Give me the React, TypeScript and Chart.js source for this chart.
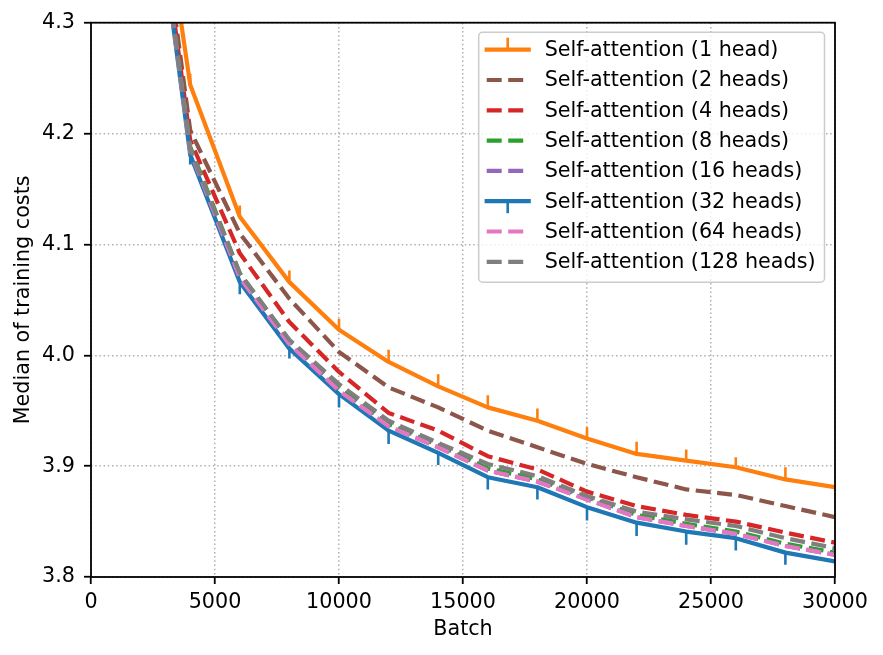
import { useEffect, useRef } from 'react';
import { Chart, registerables } from 'chart.js';

Chart.register(...registerables);

// training batch at which each median was taken
const batches = [2000, 4000, 6000, 8000, 10000, 12000, 14000, 16000, 18000, 20000, 22000, 24000, 26000, 28000, 30000];

// median of training costs, one array per number of heads
const heads1 = [4.55, 4.244, 4.125, 4.066, 4.023, 3.994, 3.972, 3.953, 3.941, 3.925, 3.911, 3.905, 3.899, 3.888, 3.881];
const heads2 = [4.54, 4.203, 4.11, 4.051, 4.003, 3.971, 3.953, 3.932, 3.917, 3.902, 3.89, 3.879, 3.874, 3.864, 3.854];
const heads4 = [4.53, 4.194, 4.092, 4.03, 3.985, 3.948, 3.932, 3.909, 3.897, 3.877, 3.864, 3.856, 3.85, 3.84, 3.831];
const heads8 = [4.52, 4.188, 4.074, 4.013, 3.97, 3.938, 3.919, 3.898, 3.888, 3.872, 3.856, 3.848, 3.841, 3.83, 3.822];
const heads16 = [4.52, 4.186, 4.072, 4.011, 3.968, 3.936, 3.917, 3.896, 3.886, 3.87, 3.854, 3.846, 3.839, 3.828, 3.82];
const heads32 = [4.52, 4.181, 4.066, 4.006, 3.965, 3.932, 3.912, 3.89, 3.881, 3.863, 3.849, 3.841, 3.835, 3.822, 3.814];
const heads64 = [4.52, 4.184, 4.07, 4.01, 3.968, 3.936, 3.917, 3.896, 3.886, 3.87, 3.854, 3.846, 3.839, 3.828, 3.82];
const heads128 = [4.52, 4.185, 4.074, 4.014, 3.974, 3.941, 3.921, 3.902, 3.891, 3.873, 3.859, 3.852, 3.846, 3.835, 3.826];

// one-sided error bars: upward for 1 head, downward for 32 heads
const err1Head = [null, 0.01, 0.01, 0.0105, 0.01, 0.011, 0.011, 0.011, 0.011, 0.01, 0.011, 0.01, 0.009, 0.011, null];
const err32Heads = [null, 0.009, 0.011, 0.009, 0.012, 0.012, 0.011, 0.011, 0.011, 0.012, 0.012, 0.012, 0.011, 0.011, null];

const seriesLabels = [
  'Self-attention (1 head)',
  'Self-attention (2 heads)',
  'Self-attention (4 heads)',
  'Self-attention (8 heads)',
  'Self-attention (16 heads)',
  'Self-attention (32 heads)',
  'Self-attention (64 heads)',
  'Self-attention (128 heads)',
];
const seriesValues = [heads1, heads2, heads4, heads8, heads16, heads32, heads64, heads128];
const seriesColors = ['#ff7f0e', '#8c564b', '#d62728', '#2ca02c', '#9467bd', '#1f77b4', '#e377c2', '#7f7f7f'];
const solidSeries = [true, false, false, false, false, true, false, false];

const xTicks = [0, 5000, 10000, 15000, 20000, 25000, 30000];
const yTicks = [3.8, 3.9, 4.0, 4.1, 4.2, 4.3];

const FONT = '"DejaVu Sans", sans-serif';
const FONT_SIZE = 20.7;
const LINE_W = 4.2;
const DASH = [15, 6.5];

const errorBars = {
  id: 'errorBars',
  afterDatasetsDraw(chart: any) {
    const { ctx, chartArea, scales } = chart;
    const sets = [
      { values: heads1, err: err1Head, dir: 1, color: seriesColors[0] },
      { values: heads32, err: err32Heads, dir: -1, color: seriesColors[5] },
    ];
    ctx.save();
    ctx.beginPath();
    ctx.rect(chartArea.left, chartArea.top, chartArea.width, chartArea.height);
    ctx.clip();
    ctx.lineWidth = 2.6;
    sets.forEach((s) => {
      ctx.strokeStyle = s.color;
      ctx.beginPath();
      s.err.forEach((e, i) => {
        if (e == null) return;
        const px = scales.x.getPixelForValue(batches[i]);
        ctx.moveTo(px, scales.y.getPixelForValue(s.values[i]));
        ctx.lineTo(px, scales.y.getPixelForValue(s.values[i] + s.dir * e));
      });
      ctx.stroke();
    });
    ctx.restore();

    // spines on all four sides
    ctx.save();
    ctx.strokeStyle = '#000';
    ctx.lineWidth = 1.8;
    ctx.strokeRect(chartArea.left, chartArea.top, chartArea.width, chartArea.height);
    ctx.restore();
  },
};

const insideLegend = {
  id: 'insideLegend',
  afterDraw(chart: any) {
    const { ctx, chartArea } = chart;
    ctx.save();
    ctx.font = `${FONT_SIZE}px ${FONT}`;
    const maxW = Math.max(...seriesLabels.map((l) => ctx.measureText(l).width));
    const textX = 66;
    const w = textX + maxW + 9;
    const h = 250;
    const right = chartArea.right - 10.5;
    const left = right - w;
    const top = chartArea.top + 9.5;

    ctx.beginPath();
    ctx.roundRect(left, top, w, h, 4);
    ctx.fillStyle = 'rgba(255,255,255,0.8)';
    ctx.fill();
    ctx.strokeStyle = '#cccccc';
    ctx.lineWidth = 1.5;
    ctx.stroke();

    seriesLabels.forEach((label, i) => {
      const cy = top + 17.5 + i * 30.3;
      const solid = solidSeries[i];
      ctx.strokeStyle = seriesColors[i];
      ctx.lineWidth = LINE_W;
      ctx.setLineDash(solid ? [] : DASH);
      ctx.lineCap = solid ? 'square' : 'butt';
      ctx.beginPath();
      ctx.moveTo(left + 8, cy);
      ctx.lineTo(left + 50, cy);
      ctx.stroke();
      ctx.setLineDash([]);
      if (i === 0 || i === 5) {
        ctx.lineWidth = 2.6;
        ctx.lineCap = 'butt';
        ctx.beginPath();
        ctx.moveTo(left + 29, cy);
        ctx.lineTo(left + 29, cy + (i === 0 ? -12 : 12));
        ctx.stroke();
      }
      ctx.fillStyle = '#000';
      ctx.textBaseline = 'middle';
      ctx.textAlign = 'left';
      ctx.fillText(label, left + textX, cy + 1);
    });
    ctx.restore();
  },
};

export default function App() {
  const canvasRef = useRef<HTMLCanvasElement>(null);

  useEffect(() => {
    if (!canvasRef.current) return;

    const tickFont = { family: FONT, size: FONT_SIZE };

    const chart = new Chart(canvasRef.current, {
      type: 'line',
      data: {
        datasets: seriesValues.map((vals, i) => ({
          label: seriesLabels[i],
          data: vals.map((v, j) => ({ x: batches[j], y: v })),
          borderColor: seriesColors[i],
          backgroundColor: seriesColors[i],
          borderWidth: LINE_W,
          borderDash: solidSeries[i] ? [] : DASH,
          borderCapStyle: 'butt',
          borderJoinStyle: 'round',
          pointRadius: 0,
          tension: 0,
          fill: false,
          clip: 0,
          order: seriesValues.length - i,
        })),
      },
      options: {
        animation: false,
        responsive: true,
        maintainAspectRatio: false,
        layout: { padding: { top: 22.7, right: 48, left: 0, bottom: 0 } },
        plugins: {
          legend: { display: false },
          tooltip: { enabled: false },
        },
        scales: {
          x: {
            type: 'linear',
            min: 0,
            max: 30000,
            afterBuildTicks: (axis: any) => {
              axis.ticks = xTicks.map((v) => ({ value: v }));
            },
            afterFit: (axis: any) => {
              axis.height = 78;
            },
            grid: {
              color: '#b0b0b0',
              lineWidth: 1.5,
              tickColor: '#000',
              tickLength: 7,
              tickWidth: 1.8,
            },
            border: { display: false, dash: [1.5, 2.7] },
            ticks: {
              color: '#000',
              font: tickFont,
              padding: 6,
              maxRotation: 0,
              autoSkip: false,
              callback: (v: any) => String(v),
            },
            title: {
              display: true,
              text: 'Batch',
              color: '#000',
              font: tickFont,
              padding: { top: 0, bottom: 13 },
            },
          },
          y: {
            type: 'linear',
            min: 3.8,
            max: 4.3,
            afterBuildTicks: (axis: any) => {
              axis.ticks = yTicks.map((v) => ({ value: v }));
            },
            afterFit: (axis: any) => {
              axis.width = 91;
            },
            grid: {
              color: '#b0b0b0',
              lineWidth: 1.5,
              tickColor: '#000',
              tickLength: 7,
              tickWidth: 1.8,
            },
            border: { display: false, dash: [1.5, 2.7] },
            ticks: {
              color: '#000',
              font: tickFont,
              padding: 9,
              autoSkip: false,
              callback: (v: any) => Number(v).toFixed(1),
            },
            title: {
              display: true,
              text: 'Median of training costs',
              color: '#000',
              font: tickFont,
              padding: { top: 11, bottom: 0 },
            },
          },
        },
      },
      plugins: [errorBars, insideLegend],
    } as any);

    return () => {
      chart.destroy();
    };
  }, []);

  return (
    <div style={{ position: 'fixed', left: 0, top: 0, width: 883, height: 655, background: '#fff' }}>
      <canvas ref={canvasRef}></canvas>
    </div>
  );
}
